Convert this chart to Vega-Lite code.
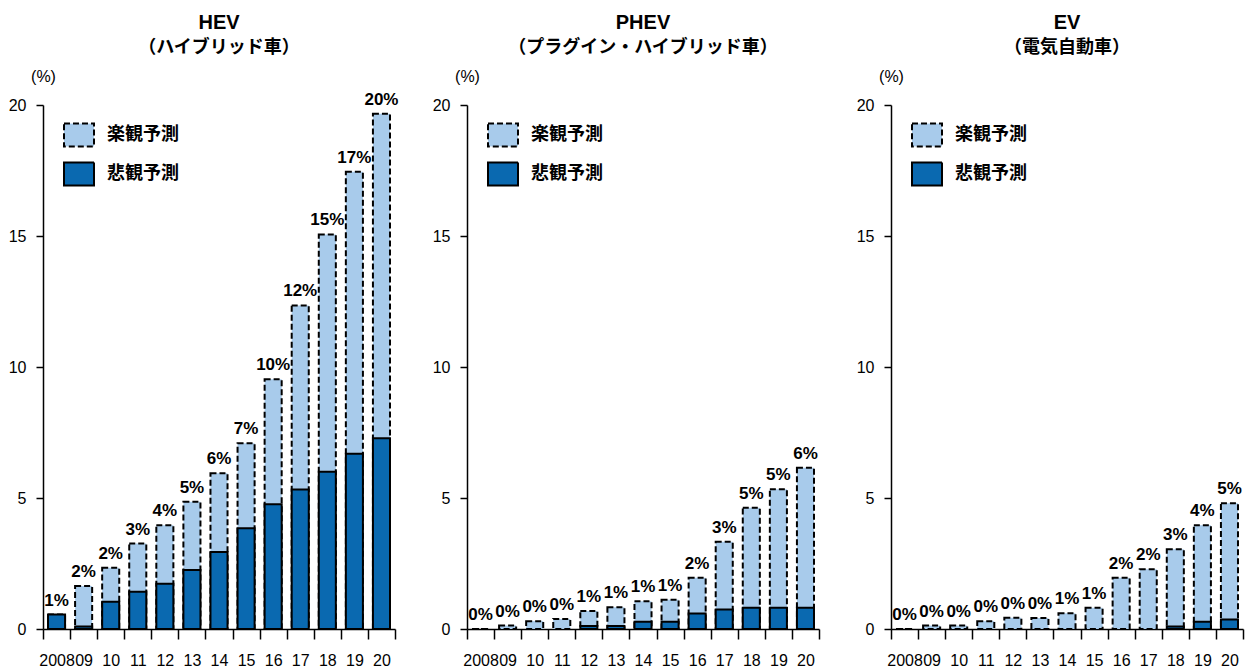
{
  "$schema": "https://vega.github.io/schema/vega-lite/v6.json",
  "autosize": {"type": "pad"},
  "padding": {"left": 8, "top": 13, "right": 5, "bottom": 0},
  "bounds": "flush",
  "spacing": 72,
  "config": {
    "font": "Liberation Sans, Noto Sans CJK JP",
    "view": {"stroke": null},
    "title": {"fontSize": 20, "fontWeight": "bold", "color": "black", "font": "Liberation Sans", "subtitleFontSize": 18, "subtitleFontWeight": "bold", "subtitleColor": "black", "subtitleFont": "Noto Sans CJK JP", "subtitlePadding": 6, "anchor": "middle", "offset": 11},
    "axis": {"labelColor": "black", "domainColor": "black", "tickColor": "black", "domainWidth": 1.5, "tickWidth": 1.5, "grid": false, "labelFont": "Liberation Sans"},
    "legend": {"title": null, "orient": "none", "legendX": 20, "legendY": 14, "padding": 0, "symbolType": "M-1,-0.76H1V0.76H-1Z", "symbolSize": 900, "symbolStrokeColor": "black", "symbolStrokeWidth": 2, "symbolOpacity": 1, "labelFontSize": 18, "labelFontWeight": "bold", "labelFont": "Noto Sans CJK JP", "labelOffset": 12, "rowPadding": 7, "labelColor": "black"}
  },
  "data": {"values": [
    {"cat": "HEV", "year": "2008", "type": "楽観予測", "value": 0.55, "label": "1%"},
    {"cat": "HEV", "year": "09", "type": "楽観予測", "value": 1.64, "label": "2%"},
    {"cat": "HEV", "year": "10", "type": "楽観予測", "value": 2.34, "label": "2%"},
    {"cat": "HEV", "year": "11", "type": "楽観予測", "value": 3.26, "label": "3%"},
    {"cat": "HEV", "year": "12", "type": "楽観予測", "value": 3.96, "label": "4%"},
    {"cat": "HEV", "year": "13", "type": "楽観予測", "value": 4.86, "label": "5%"},
    {"cat": "HEV", "year": "14", "type": "楽観予測", "value": 5.94, "label": "6%"},
    {"cat": "HEV", "year": "15", "type": "楽観予測", "value": 7.09, "label": "7%"},
    {"cat": "HEV", "year": "16", "type": "楽観予測", "value": 9.53, "label": "10%"},
    {"cat": "HEV", "year": "17", "type": "楽観予測", "value": 12.35, "label": "12%"},
    {"cat": "HEV", "year": "18", "type": "楽観予測", "value": 15.06, "label": "15%"},
    {"cat": "HEV", "year": "19", "type": "楽観予測", "value": 17.45, "label": "17%"},
    {"cat": "HEV", "year": "20", "type": "楽観予測", "value": 19.67, "label": "20%"},
    {"cat": "HEV", "year": "2008", "type": "悲観予測", "value": 0.55},
    {"cat": "HEV", "year": "09", "type": "悲観予測", "value": 0.1},
    {"cat": "HEV", "year": "10", "type": "悲観予測", "value": 1.04},
    {"cat": "HEV", "year": "11", "type": "悲観予測", "value": 1.42},
    {"cat": "HEV", "year": "12", "type": "悲観予測", "value": 1.73},
    {"cat": "HEV", "year": "13", "type": "悲観予測", "value": 2.25},
    {"cat": "HEV", "year": "14", "type": "悲観予測", "value": 2.94},
    {"cat": "HEV", "year": "15", "type": "悲観予測", "value": 3.85},
    {"cat": "HEV", "year": "16", "type": "悲観予測", "value": 4.76},
    {"cat": "HEV", "year": "17", "type": "悲観予測", "value": 5.32},
    {"cat": "HEV", "year": "18", "type": "悲観予測", "value": 6.0},
    {"cat": "HEV", "year": "19", "type": "悲観予測", "value": 6.69},
    {"cat": "HEV", "year": "20", "type": "悲観予測", "value": 7.28},
    {"cat": "PHEV", "year": "2008", "type": "楽観予測", "value": 0, "label": "0%"},
    {"cat": "PHEV", "year": "09", "type": "楽観予測", "value": 0.13, "label": "0%"},
    {"cat": "PHEV", "year": "10", "type": "楽観予測", "value": 0.3, "label": "0%"},
    {"cat": "PHEV", "year": "11", "type": "楽観予測", "value": 0.38, "label": "0%"},
    {"cat": "PHEV", "year": "12", "type": "楽観予測", "value": 0.69, "label": "1%"},
    {"cat": "PHEV", "year": "13", "type": "楽観予測", "value": 0.83, "label": "1%"},
    {"cat": "PHEV", "year": "14", "type": "楽観予測", "value": 1.06, "label": "1%"},
    {"cat": "PHEV", "year": "15", "type": "楽観予測", "value": 1.12, "label": "1%"},
    {"cat": "PHEV", "year": "16", "type": "楽観予測", "value": 1.96, "label": "2%"},
    {"cat": "PHEV", "year": "17", "type": "楽観予測", "value": 3.33, "label": "3%"},
    {"cat": "PHEV", "year": "18", "type": "楽観予測", "value": 4.63, "label": "5%"},
    {"cat": "PHEV", "year": "19", "type": "楽観予測", "value": 5.33, "label": "5%"},
    {"cat": "PHEV", "year": "20", "type": "楽観予測", "value": 6.15, "label": "6%"},
    {"cat": "PHEV", "year": "12", "type": "悲観予測", "value": 0.11},
    {"cat": "PHEV", "year": "13", "type": "悲観予測", "value": 0.11},
    {"cat": "PHEV", "year": "14", "type": "悲観予測", "value": 0.28},
    {"cat": "PHEV", "year": "15", "type": "悲観予測", "value": 0.28},
    {"cat": "PHEV", "year": "16", "type": "悲観予測", "value": 0.59},
    {"cat": "PHEV", "year": "17", "type": "悲観予測", "value": 0.74},
    {"cat": "PHEV", "year": "18", "type": "悲観予測", "value": 0.81},
    {"cat": "PHEV", "year": "19", "type": "悲観予測", "value": 0.81},
    {"cat": "PHEV", "year": "20", "type": "悲観予測", "value": 0.81},
    {"cat": "EV", "year": "2008", "type": "楽観予測", "value": 0, "label": "0%"},
    {"cat": "EV", "year": "09", "type": "楽観予測", "value": 0.13, "label": "0%"},
    {"cat": "EV", "year": "10", "type": "楽観予測", "value": 0.13, "label": "0%"},
    {"cat": "EV", "year": "11", "type": "楽観予測", "value": 0.3, "label": "0%"},
    {"cat": "EV", "year": "12", "type": "楽観予測", "value": 0.43, "label": "0%"},
    {"cat": "EV", "year": "13", "type": "楽観予測", "value": 0.42, "label": "0%"},
    {"cat": "EV", "year": "14", "type": "楽観予測", "value": 0.6, "label": "1%"},
    {"cat": "EV", "year": "15", "type": "楽観予測", "value": 0.81, "label": "1%"},
    {"cat": "EV", "year": "16", "type": "楽観予測", "value": 1.96, "label": "2%"},
    {"cat": "EV", "year": "17", "type": "楽観予測", "value": 2.28, "label": "2%"},
    {"cat": "EV", "year": "18", "type": "楽観予測", "value": 3.04, "label": "3%"},
    {"cat": "EV", "year": "19", "type": "楽観予測", "value": 3.96, "label": "4%"},
    {"cat": "EV", "year": "20", "type": "楽観予測", "value": 4.8, "label": "5%"},
    {"cat": "EV", "year": "18", "type": "悲観予測", "value": 0.1},
    {"cat": "EV", "year": "19", "type": "悲観予測", "value": 0.28},
    {"cat": "EV", "year": "20", "type": "悲観予測", "value": 0.36}
  ]},
  "resolve": {"legend": {"color": "independent", "strokeDash": "independent"}},
  "hconcat": [
    {
      "title": {"text": "HEV", "subtitle": "（ハイブリッド車）"},
      "width": 352, "height": 524,
      "transform": [{"filter": "datum.cat === 'HEV'"}],
      "encoding": {
        "x": {"field": "year", "type": "ordinal", "sort": ["2008","09","10","11","12","13","14","15","16","17","18","19","20"],
              "scale": {"paddingInner": 0, "paddingOuter": 0},
              "axis": {"title": null, "labelAngle": 0, "tickBand": "extent", "tickSize": 10, "labelPadding": 13, "labelFontSize": 16, "labelOverlap": false, "labelBound": false}},
        "y": {"field": "value", "type": "quantitative", "stack": null, "scale": {"domain": [0, 20]},
              "axis": {"title": "(%)", "titleAngle": 0, "titleX": 0, "titleY": -29, "titleAlign": "center", "titleBaseline": "middle", "titleFontWeight": "normal", "titleFontSize": 16, "titleFont": "Liberation Sans", "values": [0,5,10,15,20], "tickSize": 7, "labelPadding": 10, "labelFontSize": 16}}
      },
      "layer": [
        {"mark": {"type": "bar", "width": {"band": 0.63}, "stroke": "black", "strokeWidth": 2, "opacity": 1},
         "encoding": {
           "color": {"field": "type", "type": "nominal", "scale": {"domain": ["楽観予測","悲観予測"], "range": ["#A8CBEB","#0A69B0"]},
                     "legend": {"encode": {"symbols": {"update": {"stroke": {"value": "black"}, "strokeWidth": {"value": 2}}}}}},
           "strokeDash": {"field": "type", "type": "nominal", "scale": {"domain": ["楽観予測","悲観予測"], "range": [[6,3],[1,0]]},
                     "legend": {"encode": {"symbols": {"update": {"stroke": {"value": "black"}, "strokeWidth": {"value": 2}}}}}}
         }},
        {"transform": [{"filter": "datum.type === '楽観予測'"}],
         "mark": {"type": "text", "baseline": "alphabetic", "dy": -9, "fontWeight": "bold", "fontSize": 17, "font": "Liberation Sans", "color": "black"},
         "encoding": {"text": {"field": "label"}}}
      ]
    },
    {
      "title": {"text": "PHEV", "subtitle": "（プラグイン・ハイブリッド車）"},
      "width": 352, "height": 524,
      "transform": [{"filter": "datum.cat === 'PHEV'"}],
      "encoding": {
        "x": {"field": "year", "type": "ordinal", "sort": ["2008","09","10","11","12","13","14","15","16","17","18","19","20"],
              "scale": {"paddingInner": 0, "paddingOuter": 0},
              "axis": {"title": null, "labelAngle": 0, "tickBand": "extent", "tickSize": 10, "labelPadding": 13, "labelFontSize": 16, "labelOverlap": false, "labelBound": false}},
        "y": {"field": "value", "type": "quantitative", "stack": null, "scale": {"domain": [0, 20]},
              "axis": {"title": "(%)", "titleAngle": 0, "titleX": 0, "titleY": -29, "titleAlign": "center", "titleBaseline": "middle", "titleFontWeight": "normal", "titleFontSize": 16, "titleFont": "Liberation Sans", "values": [0,5,10,15,20], "tickSize": 7, "labelPadding": 10, "labelFontSize": 16}}
      },
      "layer": [
        {"mark": {"type": "bar", "width": {"band": 0.63}, "stroke": "black", "strokeWidth": 2, "opacity": 1},
         "encoding": {
           "color": {"field": "type", "type": "nominal", "scale": {"domain": ["楽観予測","悲観予測"], "range": ["#A8CBEB","#0A69B0"]},
                     "legend": {"encode": {"symbols": {"update": {"stroke": {"value": "black"}, "strokeWidth": {"value": 2}}}}}},
           "strokeDash": {"field": "type", "type": "nominal", "scale": {"domain": ["楽観予測","悲観予測"], "range": [[6,3],[1,0]]},
                     "legend": {"encode": {"symbols": {"update": {"stroke": {"value": "black"}, "strokeWidth": {"value": 2}}}}}}
         }},
        {"transform": [{"filter": "datum.type === '楽観予測'"}],
         "mark": {"type": "text", "baseline": "alphabetic", "dy": -9, "fontWeight": "bold", "fontSize": 17, "font": "Liberation Sans", "color": "black"},
         "encoding": {"text": {"field": "label"}}}
      ]
    },
    {
      "title": {"text": "EV", "subtitle": "（電気自動車）"},
      "width": 352, "height": 524,
      "transform": [{"filter": "datum.cat === 'EV'"}],
      "encoding": {
        "x": {"field": "year", "type": "ordinal", "sort": ["2008","09","10","11","12","13","14","15","16","17","18","19","20"],
              "scale": {"paddingInner": 0, "paddingOuter": 0},
              "axis": {"title": null, "labelAngle": 0, "tickBand": "extent", "tickSize": 10, "labelPadding": 13, "labelFontSize": 16, "labelOverlap": false, "labelBound": false}},
        "y": {"field": "value", "type": "quantitative", "stack": null, "scale": {"domain": [0, 20]},
              "axis": {"title": "(%)", "titleAngle": 0, "titleX": 0, "titleY": -29, "titleAlign": "center", "titleBaseline": "middle", "titleFontWeight": "normal", "titleFontSize": 16, "titleFont": "Liberation Sans", "values": [0,5,10,15,20], "tickSize": 7, "labelPadding": 10, "labelFontSize": 16}}
      },
      "layer": [
        {"mark": {"type": "bar", "width": {"band": 0.63}, "stroke": "black", "strokeWidth": 2, "opacity": 1},
         "encoding": {
           "color": {"field": "type", "type": "nominal", "scale": {"domain": ["楽観予測","悲観予測"], "range": ["#A8CBEB","#0A69B0"]},
                     "legend": {"encode": {"symbols": {"update": {"stroke": {"value": "black"}, "strokeWidth": {"value": 2}}}}}},
           "strokeDash": {"field": "type", "type": "nominal", "scale": {"domain": ["楽観予測","悲観予測"], "range": [[6,3],[1,0]]},
                     "legend": {"encode": {"symbols": {"update": {"stroke": {"value": "black"}, "strokeWidth": {"value": 2}}}}}}
         }},
        {"transform": [{"filter": "datum.type === '楽観予測'"}],
         "mark": {"type": "text", "baseline": "alphabetic", "dy": -9, "fontWeight": "bold", "fontSize": 17, "font": "Liberation Sans", "color": "black"},
         "encoding": {"text": {"field": "label"}}}
      ]
    }
  ]
}
